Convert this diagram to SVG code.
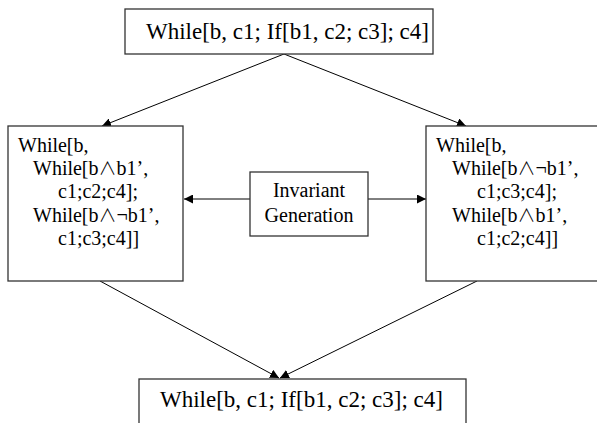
<svg xmlns="http://www.w3.org/2000/svg" width="597" height="423" viewBox="0 0 597 423">
<defs>
<marker id="ah" viewBox="0 0 10 10" refX="10" refY="5" markerWidth="9" markerHeight="9" markerUnits="userSpaceOnUse" orient="auto">
<path d="M0,0 L10,5 L0,10 z" fill="#000"/>
</marker>
<style>
.box{fill:#fff;stroke:#333;stroke-width:1.3}
.t{font-family:"Liberation Serif","Times New Roman",serif;font-size:20px;fill:#000}
.big{font-size:23px}
.w{font-family:"Noto Sans CJK JP",sans-serif;font-weight:300;font-size:18px}
.c{fill:none;stroke:#000;stroke-width:1;marker-end:url(#ah)}
</style>
</defs>
<rect width="597" height="423" fill="#fff"/>
<g id="connectors">
<line class="c" x1="284" y1="54" x2="102" y2="126"/>
<line class="c" x1="284" y1="54" x2="466" y2="126"/>
<line class="c" x1="250" y1="199" x2="184" y2="199"/>
<line class="c" x1="368" y1="199" x2="426" y2="199"/>
<line class="c" x1="100" y1="281" x2="279" y2="378"/>
<line class="c" x1="477" y1="281" x2="280" y2="378"/>
</g>
<g id="top">
<rect class="box" x="125" y="9" width="308" height="45"/>
<text class="t big" x="146" y="39">While[b, c1; If[b1, c2; c3]; c4]</text>
</g>
<g id="left">
<rect class="box" x="8" y="126" width="175" height="155"/>
<text class="t"><tspan x="18" y="152">While[b,</tspan><tspan x="33" y="175">While[b<tspan class="w">∧</tspan>b1’,</tspan><tspan x="58" y="198">c1;c2;c4];</tspan><tspan x="33" y="222">While[b<tspan class="w">∧</tspan>¬b1’,</tspan><tspan x="58" y="245">c1;c3;c4]]</tspan></text>
</g>
<g id="middle">
<rect class="box" x="250" y="172" width="118" height="64"/>
<text class="t" text-anchor="middle"><tspan x="309" y="197">Invariant</tspan><tspan x="309" y="222">Generation</tspan></text>
</g>
<g id="right">
<rect class="box" x="426" y="126" width="180" height="155"/>
<text class="t"><tspan x="436" y="152">While[b,</tspan><tspan x="452" y="175">While[b<tspan class="w">∧</tspan>¬b1’,</tspan><tspan x="477" y="198">c1;c3;c4];</tspan><tspan x="452" y="222">While[b<tspan class="w">∧</tspan>b1’,</tspan><tspan x="477" y="245">c1;c2;c4]]</tspan></text>
</g>
<g id="bottom">
<rect class="box" x="139" y="379" width="327" height="60"/>
<text class="t big" x="160" y="407">While[b, c1; If[b1, c2; c3]; c4]</text>
</g>
</svg>
